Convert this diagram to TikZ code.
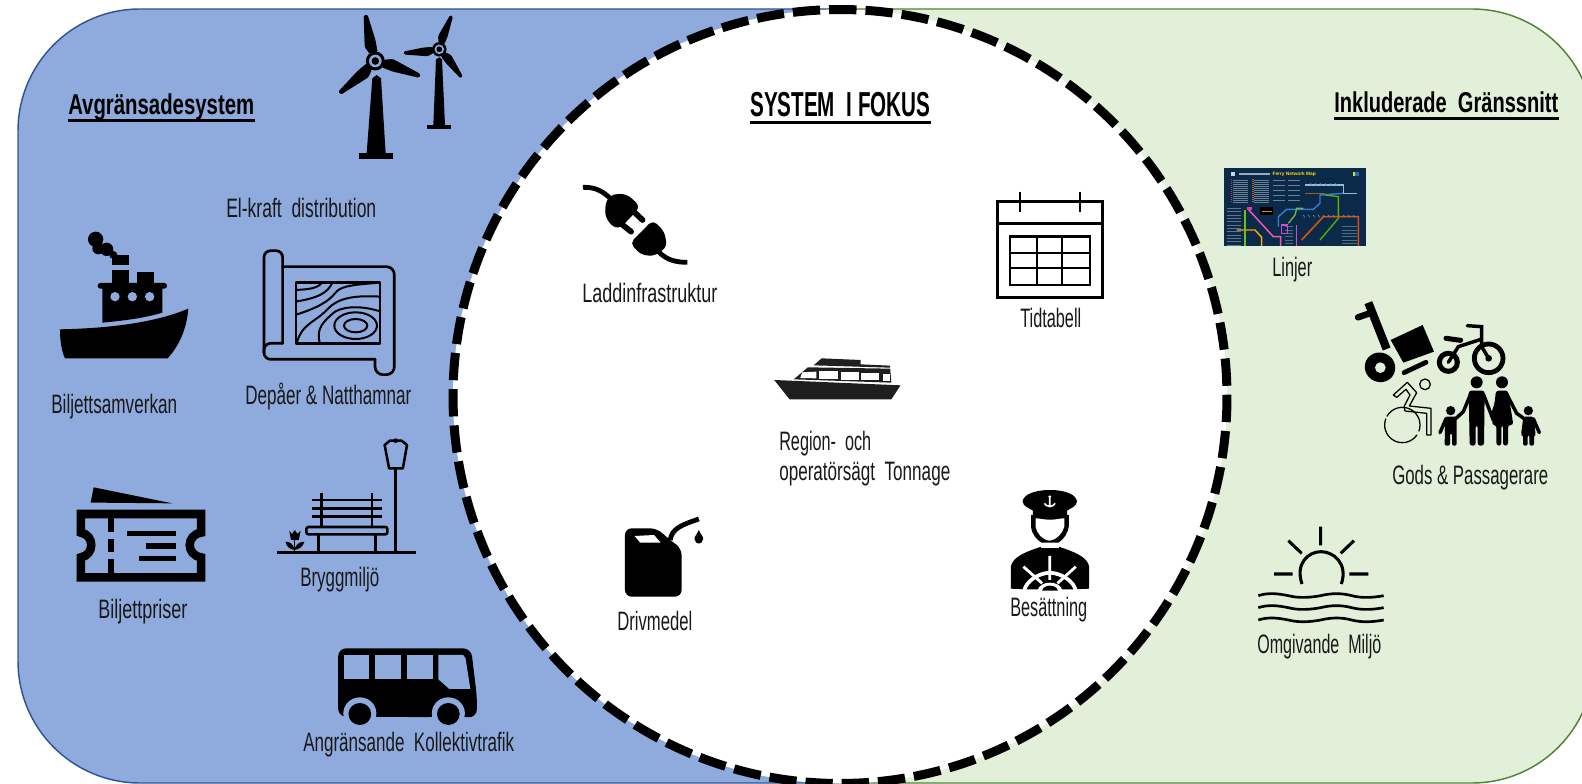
\documentclass[tikz,border=0pt]{standalone}
\usepackage{fontspec}
\usepackage{graphicx}
\setmainfont{Liberation Sans}
\definecolor{bluefill}{HTML}{8FAADC}
\definecolor{blueline}{HTML}{2F5597}
\definecolor{greenfill}{HTML}{E2EFD9}
\definecolor{greenline}{HTML}{548235}
\definecolor{mapnavy}{HTML}{0B2A4A}
\newsavebox\fitbox
\newcommand\fitw[2]{\sbox\fitbox{#2}\pgfmathsetmacro\fitr{#1*0.75/\the\wd\fitbox}\scalebox{\fitr}[1]{\usebox\fitbox}}
\newcommand\tblade[2]{\fill[rotate=#1,rounded corners=1pt] (8,-4)--(16,-7.5)--(#2,-2)--(#2,2)--(20,4.5)--(8,4)--cycle;}
\newcommand\thub[1]{\fill (0,0) circle[radius=9.5];\fill[#1] (0,0) circle[radius=6.3];\fill (0,0) circle[radius=3.8];}
\tikzset{
  lab/.style={inner sep=0pt,anchor=base west,text=black!90,font=\fontsize{20}{20}\selectfont},
  headlab/.style={inner sep=0pt,anchor=base west,text=black,font=\fontsize{21.5}{22}\selectfont\bfseries},
  ul/.style={line width=2pt,black},
  zA/.style={scale=1/3},
  zB/.style={shift={(0,400)},xscale=1/2.904,yscale=1/3},
  zC/.style={shift={(540,150)},xscale=1/2.613,yscale=1/3},
  zD/.style={shift={(1200,150)},scale=1/3},
  zE/.style={shift={(1210,160)},scale=1/3},
}
\begin{document}
\begin{tikzpicture}[x=0.75pt,y=-0.75pt]
\path[use as bounding box] (0,0) rectangle (1582,784);
\clip (0,0) rectangle (1582,784);
% panels
\fill[bluefill] (835,9) -- (140,9) arc[start angle=-90,end angle=-180,radius=122] -- (18,661) arc[start angle=180,end angle=90,radius=122] -- (835,783) -- cycle;
\draw[blueline,line width=1.1pt] (835,9) -- (140,9) arc[start angle=-90,end angle=-180,radius=122] -- (18,661) arc[start angle=180,end angle=90,radius=122] -- (835,783);
\fill[greenfill] (835,9) -- (1472,9) arc[start angle=-90,end angle=0,radius=122] -- (1594,661) arc[start angle=0,end angle=90,radius=122] -- (835,783) -- cycle;
\draw[greenline,line width=1.1pt] (835,9) -- (1472,9) arc[start angle=-90,end angle=0,radius=122] -- (1594,661) arc[start angle=0,end angle=90,radius=122] -- (835,783);
% circle
\fill[white] (840,396.5) circle[radius=387];
\draw[line width=6.75pt,dash pattern=on 20.5pt off 6.72pt] (840,396.5) ++(-91.6:387) arc[start angle=-91.6,delta angle=360,radius=387];

% ---------- turbines
\begin{scope}[zA]
\fill (1117,235)--(1130,225)--(1143,235)--(1157,460)--(1100,460)--cycle;
\fill (1078,460) rectangle (1178,478);
\fill (1308,178)--(1318,172)--(1326,178)--(1335,375)--(1300,375)--cycle;
\fill (1282,375) rectangle (1352,388);
\end{scope}
\begin{scope}[shift={(375.3,61)}]
\tblade{101.9}{47}\tblade{-18.5}{47}\tblade{222}{48}\thub{bluefill}
\end{scope}
\begin{scope}[shift={(439.3,49.3)},scale=.76]
\tblade{70}{47}\tblade{186}{47}\tblade{-51.5}{47}\thub{bluefill}
\end{scope}

% ---------- steam ship
\begin{scope}[zA]
\fill (180,988) .. controls (320,985) and (460,970) .. (565,926) .. controls (560,990) and (535,1040) .. (503,1075) -- (195,1075) .. controls (183,1050) and (180,1015) .. (180,988) -- cycle;
\fill (307,968) -- (307,860) -- (487,860) -- (487,938) .. controls (430,955) and (370,962) .. (307,968) -- cycle;
\fill[rounded corners=2pt] (293,849) rectangle (501,866);
\fill (335,810) rectangle (388,852);
\fill (412,816) rectangle (463,852);
\fill (336,764) rectangle (388,796);
\fill (287,718) circle[radius=23];
\fill (295,745) circle[radius=18];
\fill (320,748) circle[radius=20];
\fill (340,765) circle[radius=12];
\fill[bluefill] (345,890) circle[radius=14] (397,890) circle[radius=14] (449,890) circle[radius=14];
\end{scope}

% ---------- map
\begin{scope}[zA,line cap=round,line join=round]
\draw[line width=2pt,rounded corners=5pt] (848,1030) -- (848,752) -- (792,752) -- (792,1078) -- (1125,1078);
\draw[line width=2pt,rounded corners=6pt] (848,800) -- (1183,800) -- (1183,1124) -- (1125,1124) -- (1125,1078);
\draw[line width=2pt,rounded corners=5pt] (848,1030) -- (792,1030) -- (792,1060);
\begin{scope}
\clip (888,847) rectangle (1140,1030);
\draw[line width=1.5pt] (885,870) .. controls (930,868) and (955,865) .. (968,845);
\draw[line width=1.5pt] (885,905) .. controls (950,895) and (985,880) .. (998,845);
\draw[line width=1.5pt] (885,945) .. controls (950,925) and (985,905) .. (1005,880) .. controls (1020,860) and (1045,855) .. (1140,848);
\draw[line width=1.5pt] (890,1030) .. controls (905,970) and (950,965) .. (985,925) .. controls (1015,895) and (1060,885) .. (1142,890);
\draw[line width=1.5pt] (960,1030) .. controls (945,985) and (975,960) .. (1005,935) .. controls (1040,915) and (1100,920) .. (1142,935);
\draw[line width=1.5pt] (1067,977) ellipse[x radius=35,y radius=20];
\draw[line width=1.5pt] (1067,977) ellipse[x radius=64,y radius=40];
\end{scope}
\draw[line width=2pt] (888,847) rectangle (1140,1030);
\end{scope}

% ---------- ticket
\begin{scope}[zB]
\draw[line width=6.4pt,miter limit=10] (235,342) -- (584,342) -- (584,398) .. controls (540,405) and (540,465) .. (584,472) -- (584,532) -- (235,532) -- (235,472) .. controls (275,465) and (275,405) .. (235,398) -- cycle;
\fill (313,355) rectangle (330,397);
\fill (313,418) rectangle (330,455);
\fill (313,478) rectangle (330,520);
\fill (370,392) rectangle (510,408);
\fill (423,430) rectangle (510,447);
\fill (405,468) rectangle (510,484);
\fill (272,262) -- (500,310) -- (285,308) -- (263,308) -- cycle;
\end{scope}

% ---------- bench, lamp, tulip
\begin{scope}[zB]
\draw[line width=2.2pt] (805,458) -- (1208,458);
\draw[line width=2.2pt] (1149,205) -- (1149,458);
\draw[line width=1.9pt,line join=round] (1117,135) -- (1132,122) -- (1166,122) -- (1182,135) -- (1170,205) -- (1130,205) -- cycle;
\fill (1149,122) circle[radius=7];
\draw[line width=1.9pt,rounded corners=1.5pt] (890,381) rectangle (1125,403);
\draw[line width=2pt] (925,403) -- (925,458) (1090,403) -- (1090,458);
\draw[line width=2pt] (934,278) -- (934,381) (1080,278) -- (1080,381);
\draw[line width=2pt] (905,300) -- (1108,300) (905,325) -- (1108,325) (905,350) -- (1108,350);
\draw[line width=1.3pt] (855,420) -- (855,458);
\fill (840,392) -- (848,402) -- (856,390) -- (864,402) -- (873,392) -- (868,420) -- (845,420) -- cycle;
\fill (829,425) .. controls (845,425) and (853,435) .. (855,450) .. controls (840,447) and (832,440) .. (829,425) -- cycle;
\fill (884,425) .. controls (868,425) and (858,435) .. (855,450) .. controls (870,447) and (880,440) .. (884,425) -- cycle;
\end{scope}

% ---------- bus
\begin{scope}[zB]
\fill[rounded corners=6pt] (982,950) -- (982,745) -- (1368,745) -- (1385,890) -- (1385,952) -- cycle;
\fill[bluefill] (1000,765) rectangle (1073,838);
\fill[bluefill] (1090,765) rectangle (1165,838);
\fill[bluefill] (1183,765) rectangle (1257,838);
\fill[bluefill] (1273,765) -- (1345,765) -- (1352,775) -- (1366,867) -- (1305,867) -- (1273,838) -- cycle;
\fill[bluefill] (1045,940) circle[radius=48] (1302,940) circle[radius=48];
\fill[bluefill] (990,952) rectangle (1100,990) (1245,952) rectangle (1360,990);
\fill (1045,942) circle[radius=33] (1302,942) circle[radius=33];
\end{scope}

% ---------- plug
\begin{scope}[zC,line cap=round]
\draw[line width=3.6pt,line cap=butt] (112,112) .. controls (150,110) and (170,130) .. (190,152);
\fill[rounded corners=5pt] (168,175) -- (180,135) -- (225,130) -- (263,170) -- (205,240) -- (175,215) -- cycle;
\draw[line width=4.3pt] (245,185) -- (268,210);
\draw[line width=4.3pt] (213,222) -- (238,245);
\fill[rounded corners=4pt] (295,210) -- (325,245) -- (332,290) -- (300,318) -- (265,315) -- (235,280) -- cycle;
\draw[line width=3.6pt,line cap=butt] (310,305) .. controls (330,330) and (355,337) .. (385,337);
\end{scope}

% ---------- calendar
\begin{scope}[zC]
\draw[line width=2.1pt] (1195,155) rectangle (1470,443);
\draw[line width=2.1pt] (1195,220) -- (1470,220);
\draw[line width=1.6pt] (1254,125) -- (1254,185) (1410,125) -- (1410,185);
\draw[line width=2.1pt] (1228,260) rectangle (1437,405);
\draw[line width=1.6pt] (1228,308) -- (1437,308) (1228,355) -- (1437,355) (1298,260) -- (1298,405) (1365,260) -- (1365,405);
\end{scope}

% ---------- ferry
\begin{scope}[zC]
\fill[black!88] (612,690) -- (942,706) -- (918,748) -- (652,748) -- cycle;
\fill[black!88] (663,688) -- (700,652) -- (915,656) -- (918,698) -- cycle;
\fill[black!88] (715,646) -- (736,625) -- (838,630) -- (838,643) -- (915,647) -- (915,653) -- cycle;
\fill[white] (685,667) -- (722,665) -- (722,685) -- (680,684) -- cycle;
\fill[white] (730,664) rectangle (778,687);
\fill[white] (787,666) rectangle (833,689);
\fill[white] (840,669) rectangle (887,691);
\fill[white] (895,671) rectangle (915,693);
\end{scope}

% ---------- canister
\begin{scope}[zC]
\fill[rounded corners=5pt] (222,1340) -- (222,1135) -- (305,1135) -- (345,1175) -- (370,1195) -- (370,1340) -- cycle;
\fill[white] (247,1158) -- (298,1155) -- (315,1178) -- (262,1178) -- cycle;
\draw[line width=3.6pt] (340,1170) .. controls (345,1135) and (370,1125) .. (415,1107);
\fill (415,1140) .. controls (420,1155) and (428,1160) .. (426,1168) .. controls (424,1185) and (406,1185) .. (404,1168) .. controls (402,1160) and (410,1155) .. (415,1140) -- cycle;
\end{scope}

% ---------- captain
\begin{scope}[zC]
\fill (1230,1316) -- (1230,1250) .. controls (1235,1220) and (1270,1205) .. (1310,1190) -- (1355,1190) .. controls (1395,1205) and (1430,1220) .. (1435,1250) -- (1435,1316) -- (1395,1318) -- (1270,1318) -- cycle;
\fill (1283,1095) -- (1283,1130) .. controls (1285,1155) and (1300,1170) .. (1310,1178) -- (1355,1178) .. controls (1370,1165) and (1380,1150) .. (1382,1125) -- (1382,1095) -- cycle;
\fill[white] (1295,1105) -- (1370,1105) -- (1370,1130) .. controls (1365,1150) and (1350,1170) .. (1332,1172) .. controls (1312,1170) and (1298,1150) .. (1295,1130) -- cycle;
\fill[white] (1310,1178) -- (1355,1178) -- (1355,1195) -- (1310,1195) -- cycle;
\fill (1332,1020) .. controls (1290,1020) and (1262,1035) .. (1261,1055) .. controls (1262,1070) and (1280,1075) .. (1288,1082) -- (1288,1100) .. controls (1320,1112) and (1345,1112) .. (1377,1100) -- (1377,1082) .. controls (1385,1075) and (1402,1070) .. (1403,1055) .. controls (1402,1035) and (1375,1020) .. (1332,1020) -- cycle;
\draw[white,line width=1.2pt] (1332,1040) -- (1332,1072) (1318,1060) .. controls (1322,1072) and (1342,1072) .. (1346,1060);
\fill[white] (1332,1040) circle[radius=4];
\draw[white,line width=2.8pt] (1265,1322) .. controls (1270,1295) and (1300,1270) .. (1332,1268) .. controls (1365,1270) and (1395,1295) .. (1400,1322);
\draw[white,line width=2.1pt] (1332,1218) -- (1332,1290) (1263,1250) -- (1312,1300) (1400,1250) -- (1352,1300);
\fill[white] (1300,1322) .. controls (1305,1290) and (1360,1290) .. (1365,1322) -- cycle;
\fill (1312,1322) .. controls (1315,1302) and (1350,1302) .. (1353,1322) -- cycle;
\end{scope}

% ---------- network map
\begin{scope}[zE]
\fill[mapnavy] (42,25) rectangle (467,258);
\begin{scope}
\clip (42,25) rectangle (467,258);
\fill[white!80!mapnavy] (62,35) rectangle (76,49);
\node[inner sep=0pt,anchor=west,text=yellow!80!orange,font=\fontsize{3.6}{4}\selectfont\bfseries] (mapt) at (187,42) {Ferry Network Map};
\draw[white!60!mapnavy,line width=1.5pt] (88,42) -- (180,42);
\fill[yellow!70!orange] (428,35) rectangle (436,49);
\fill[cyan!50!blue] (436,35) rectangle (446,49);
\foreach \yy in {60,66,...,130}{
  \draw[white!40!mapnavy,line width=.6pt] (68,\yy) -- (115,\yy) (133,\yy) -- (178,\yy);
  \fill[magenta!70!mapnavy] (63,\yy-1.5) rectangle (67,\yy+1.5);
  \fill[orange!70!mapnavy] (127,\yy-1.5) rectangle (131,\yy+1.5);
}
\foreach \yy in {60,75,90,105,120}{\draw[white!40!mapnavy,line width=.6pt] (190,\yy) -- (225,\yy) (235,\yy) -- (270,\yy);}
\foreach \yy in {145,155,...,255}{\draw[white!35!mapnavy,line width=.6pt] (50,\yy) -- (92,\yy);}
\foreach \yy in {200,210,...,255}{\draw[white!30!mapnavy,line width=.5pt] (225,\yy) -- (250,\yy) (395,\yy) -- (440,\yy);}
\draw[magenta!65!white,line width=1.1pt] (112,145) -- (190,230) -- (212,230) -- (212,258);
\draw[orange!70!yellow,line width=1.1pt] (80,210) -- (135,210) -- (155,232) -- (155,258);
\draw[green!40!yellow!70!mapnavy,line width=1pt] (105,150) -- (105,258);
\draw[cyan!50!blue!85!white,line width=1.1pt] (205,200) -- (205,170) -- (230,148) -- (310,148) -- (330,130) -- (330,105) -- (400,100);
\draw[yellow!50!green!80!mapnavy,line width=1pt] (235,190) -- (255,165) -- (260,145) -- (280,145);
\draw[green!50!yellow!70!black,line width=1pt] (330,240) -- (385,175) -- (385,110) -- (345,105);
\draw[orange!70!red!85!mapnavy,line width=1.2pt] (275,240) -- (340,170) -- (445,170) -- (445,258);
\draw[violet!50!magenta!70!white,line width=1.1pt] (215,195) rectangle (232,220) (260,195) -- (260,258);
\draw[cyan!40!white!80!mapnavy,line width=1pt] (285,75) -- (400,75) -- (400,100) -- (440,100);
\draw[orange!60!mapnavy,line width=.8pt] (285,100) -- (345,100);
\fill[magenta!80!white] (112,142) rectangle (125,150);
\fill[black] (150,140) rectangle (190,165);
\fill[orange] (155,152) rectangle (185,156);
\foreach \xa in {300,315,...,385}{\draw[white!45!mapnavy,line width=.5pt] (\xa,70) -- (\xa+5,76);}
\foreach \xa in {280,295,...,440}{\draw[white!45!mapnavy,line width=.5pt] (\xa,165) -- (\xa+4,172);}
\end{scope}
\end{scope}

% ---------- goods, bike, wheelchair, family
\begin{scope}[zD,line cap=round]
\draw[line width=6.2pt,line cap=butt] (505,458) -- (560,597);
\draw[line width=4.8pt] (474,502) -- (515,488);
\fill[rotate around={-25:(540,652)}] (540,652) ellipse[x radius=46,y radius=44];
\fill[greenfill] (541,653) circle[radius=16];
\fill (572,570) -- (668,525) -- (702,605) -- (610,638) -- cycle;
\draw[line width=3.6pt] (612,668) -- (678,637);
\draw[line width=3.6pt] (866,625) circle[radius=43];
\draw[line width=3.8pt] (745,637) circle[radius=27];
\fill (866,625) circle[radius=10];
\draw[line width=2.6pt] (866,625) -- (845,590) -- (845,530) -- (802,527);
\draw[line width=2.6pt] (745,637) -- (775,590) -- (843,568);
\draw[line width=3.8pt] (738,565) -- (782,571);
\begin{scope}[line width=.95pt]
\draw (607,825) ++(-150:53) arc[start angle=-150,end angle=20,radius=53];
\draw (607,825) ++(35:53) arc[start angle=35,end angle=200,radius=53];
\draw (675,703) circle[radius=16];
\draw[line join=round] (580,735) -- (622,697) -- (650,728) -- (628,768) -- (693,775) -- (693,855) -- (680,855) -- (680,790) -- (615,783) -- (612,770) -- (630,735) -- (618,718) -- (590,742) -- cycle;
\end{scope}
\fill (830,697) circle[radius=18] (906,697) circle[radius=18] (752,782) circle[radius=14] (985,782) circle[radius=14];
\fill[rounded corners=2pt] (806,722) -- (854,722) -- (852,887) -- (833,887) -- (833,825) -- (827,825) -- (827,887) -- (809,887) -- cycle;
\fill[rounded corners=2pt] (888,722) -- (924,722) -- (940,825) -- (924,825) -- (924,887) -- (909,887) -- (909,825) -- (904,825) -- (904,887) -- (889,887) -- (889,825) -- (876,825) -- cycle;
\draw[line width=2.6pt] (812,732) -- (790,785) -- (768,805);
\draw[line width=2.6pt] (850,732) -- (876,800) -- (898,732);
\draw[line width=2.6pt] (920,732) -- (950,790) -- (975,808);
\fill[rounded corners=1.5pt] (735,800) -- (770,800) -- (770,887) -- (756,887) -- (756,850) -- (750,850) -- (750,887) -- (734,887) -- cycle;
\draw[line width=2.6pt] (738,806) -- (720,848);
\fill[rounded corners=1.5pt] (970,800) -- (1001,800) -- (1007,855) -- (1002,855) -- (1002,887) -- (988,887) -- (988,855) -- (983,855) -- (983,887) -- (969,887) -- (969,855) -- (963,855) -- cycle;
\draw[line width=2.6pt] (1000,806) -- (1018,848);
\end{scope}

% ---------- sun and waves
\begin{scope}[zD]
\draw[line width=2.3pt] (306,1302) .. controls (285,1240) and (325,1205) .. (363,1205) .. controls (400,1205) and (445,1240) .. (424,1302);
\draw[line width=2.3pt] (362,1130) -- (362,1186) (265,1172) -- (305,1210) (462,1172) -- (422,1210) (222,1272) -- (278,1272) (448,1272) -- (505,1272);
\foreach \wy in {1337,1373,1410}{
  \draw[line width=2pt] (175,\wy) .. controls (205,\wy-10) and (235,\wy-6) .. (265,\wy) .. controls (295,\wy+8) and (330,\wy+6) .. (362,\wy) .. controls (395,\wy-8) and (425,\wy-8) .. (455,\wy) .. controls (485,\wy+8) and (520,\wy+6) .. (551,\wy);
}
\end{scope}

% ---------- texts
\node[headlab] (hA) at (68,115) {\fitw{186}{Avgränsadesystem}};
\draw[ul] ([yshift=-4pt]hA.base west) -- ([yshift=-4pt]hA.base east);
\node[headlab,font=\fontsize{26}{26}\selectfont\bfseries] (hS) at (750,117) {\fitw{180}{SYSTEM\ \ I\ FOKUS}};
\draw[ul] ([yshift=-4pt]hS.base west) -- ([yshift=-4pt]hS.base east);
\node[headlab] (hI) at (1334,113) {\fitw{224}{Inkluderade\ \ Gränssnitt}};
\draw[ul] ([yshift=-4pt]hI.base west) -- ([yshift=-4pt]hI.base east);
\node[lab] (t1) at (226,218) {\fitw{150}{El-kraft\ \ distribution}};
\node[lab] (t2) at (245,404) {\fitw{166}{Depåer\ \&\ Natthamnar}};
\node[lab] (t3) at (51,413) {\fitw{126}{Biljettsamverkan}};
\node[lab] (t4) at (98,618) {\fitw{89}{Biljettpriser}};
\node[lab] (t5) at (300,586) {\fitw{79}{Bryggmiljö}};
\node[lab] (t6) at (303,751) {\fitw{211}{Angränsande\ \ Kollektivtrafik}};
\node[lab] (t7) at (582,303) {\fitw{135}{Laddinfrastruktur}};
\node[lab] (t8) at (1020,328) {\fitw{61}{Tidtabell}};
\node[lab] (t9) at (779,450) {\fitw{92}{Region-\ \ och}};
\node[lab] (t10) at (779,480) {\fitw{171}{operatörsägt\ \ Tonnage}};
\node[lab] (t11) at (617,630) {\fitw{75}{Drivmedel}};
\node[lab] (t12) at (1010,616) {\fitw{77}{Besättning}};
\node[lab] (t13) at (1272,277) {\fitw{40}{Linjer}};
\node[lab] (t14) at (1392,484) {\fitw{156}{Gods\ \&\ Passagerare}};
\node[lab] (t15) at (1257,653) {\fitw{124}{Omgivande\ \ Miljö}};
\end{tikzpicture}
\end{document}
